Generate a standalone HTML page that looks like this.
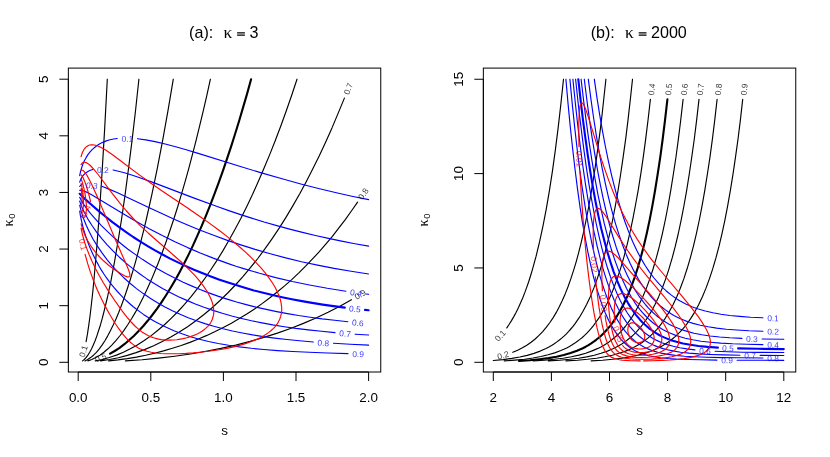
<!DOCTYPE html>
<html><head><meta charset="utf-8"><title>Contours</title>
<style>
html,body{margin:0;padding:0;background:#fff;}
body{width:830px;height:457px;overflow:hidden;font-family:"Liberation Sans",sans-serif;}
svg{display:block;will-change:transform;}
svg text{font-family:"Liberation Sans",sans-serif;}
svg .sym{font-family:"Liberation Serif",serif;}
</style></head><body>
<svg width="830" height="457" viewBox="0 0 830 457" font-family="'Liberation Sans', sans-serif" fill="#000">
<rect width="830" height="457" fill="#fff"/>
<g>
<path d="M86.1 341.6L87.4 334.4L88.7 325.6L90.1 315.5L91.4 304.3L92.8 291.8L94.1 278.1L96.8 247.1L99.5 211.2L102 173.4L104.7 128.1L107.3 79.2 M82.5 360.9L84.3 359.5L86 357.7L87.9 355.1L89.7 352.3L91.6 348.7L93.3 344.9L95.1 340.7L96.8 336.1L98.7 330.3L100.5 324.7L102.2 318.6L103.9 312L107.4 297.5L110.9 281.1L114.5 261.8L118 241.6L121.5 219.5L125 195.4L128.4 169.5L131.9 141.6L135.4 111.8L138.9 79.2 M85 360.9L87.7 359.5L90.6 357.6L93.5 355.2L96.4 352.3L99.3 348.8L102 345.1L104.9 340.7L107.6 336.1L110.5 330.6L113.2 325.1L116.1 318.7L118.8 312.2L121.7 304.7L124.4 297.3L127.3 288.8L130 280.5L132.9 270.9L135.6 261.6L138.3 251.7L140.9 241.4L143.8 229.8L146.5 218.5L151.9 194.4L157.3 168.3L162.7 140.1L167.9 111.1L173.3 79.2 M87.9 360.9L91.8 359.5L95.8 357.6L99.9 355.2L103.9 352.3L108 348.8L111.8 345.1L115.9 340.7L119.7 336L123.8 330.6L127.6 325L131.7 318.5L135.6 311.9L139.6 304.4L143.5 296.8L147.3 288.7L151.2 280.1L155 271L158.9 261.3L162.7 251.2L166.4 241L170.2 229.8L173.9 218.7L177.8 206.5L181.4 194.3L185.1 181.6L188.8 168.4L192.4 154.7L196.1 140.4L199.7 125.6L203.2 111.1L206.9 95.2L210.4 79.2 M95.2 360.9L98.7 360.2L102.2 359.5L105.9 358.5L109.3 357.5L113 356.3L116.5 355.1L123.4 352.2L130.3 348.8L137.3 344.9L144.2 340.5L151.2 335.6L157.9 330.3L164.7 324.5L171.4 318.2L178 311.5L184.5 304.3L191.1 296.6L197.6 288.3L204 279.7L210.3 270.5L216.5 261.1L222.7 251.1L228.8 240.5L234.8 229.7L240.8 218.4L246.8 206.4L252.6 194.3L258.3 181.5L264.1 168.1L269.7 154.6L275.3 140.5L280.9 125.7L286.3 110.8L291.7 95.3L297 79.2 M100.5 360.9L109.5 359.5L118.4 357.7L127.3 355.4L136.1 352.6L145 349.4L153.7 345.8L162.3 341.6L170.8 337.1L179.3 332.1L187.6 326.7L195.9 320.8L204 314.5L212.1 307.7L220 300.5L227.7 293L235.4 285L242.9 276.6L250.4 267.7L257.8 258.5L264.9 248.9L272 238.8L279.2 228.1L286.1 217.1L292.8 205.9L299.6 194L306.1 181.9L312.7 169.1L319.3 155.8L325.6 142.2L332 127.9L338.1 113.4L344.4 98.1 M108.7 360.9L118 359.9L127.3 358.6L136.5 357.1L145.6 355.3L154.6 353.2L163.5 350.9L172.4 348.3L181.2 345.5L189.9 342.4L198.4 339L206.9 335.4L215.2 331.6L223.3 327.5L231.4 323.2L239.3 318.6L247.2 313.8L254.9 308.7L262.4 303.4L269.9 297.8L277.2 292L284.6 285.9L291.7 279.6L298.6 273.1L305.6 266.2L312.3 259.2L319.1 251.9L325.8 244.2L332.4 236.3L338.7 228.2L345.1 219.8L351.4 211L357.6 202.2 M125.4 360.9L142.1 359.7L158.5 358.1L174.7 356.2L190.5 354L205.9 351.3L220.9 348.4L235.8 345.1L250.1 341.4L263.9 337.4L277.4 333.1L290.5 328.5L303.4 323.4L316 318L328.1 312.2L339.9 306.2L351.4 299.7" fill="none" stroke="#000" stroke-width="1.15" stroke-linecap="round" stroke-linejoin="round"/>
<path d="M110.1 353.7L114.7 351L119.6 347.8L124.4 344.2L129 340.3L133.8 335.9L138.4 331.3L143.1 326.2L147.7 320.8L152.3 315L156.9 308.8L161.6 302.1L166.2 295L170.8 287.5L175.3 279.9L179.7 271.9L184.1 263.5L188.6 254.6L193 245.4L197.4 235.6L201.7 225.9L205.9 215.8L210.2 205.2L214.4 194.2L218.6 182.8L222.9 170.9L226.9 159.1L231 146.8L235 134.2L239.1 121L243.1 107.4L247.2 93.4L251.1 79.2" fill="none" stroke="#000" stroke-width="2.1" stroke-linecap="round" stroke-linejoin="round"/>
<path d="M79.7 175.7L80.4 172.1L81.6 168L82.9 164.1L84.5 160.6L86.2 157.4L88.1 154.4L90.3 151.7L92.4 149.4L94.9 147.2L97.4 145.3L100.3 143.6L103.4 142.1L106.4 140.9L109.9 139.8L113.6 139L117.3 138.5 M137.5 138.7L145.8 139.9L155 141.6L165.2 144L176.6 147L186.2 149.8L197.4 153.1L241.2 166.7L261.4 172.9L282.1 178.8L301.7 184.2L318.5 188.5L335.3 192.5L351.8 196.2L368.6 199.6 M79.7 182.1L80.6 179.6L81.8 177.4L83.1 175.5L84.7 173.9L86.4 172.5L88.3 171.3L90.4 170.3L92.9 169.5 M113.1 170L118.4 171.2L124.4 172.7L130.9 174.7L138.4 177.2L152.9 182.4L194.2 198.1L216.5 206.3L228.7 210.6L240.6 214.6L252.4 218.4L264.1 222L276.8 225.6L289.6 229.1L302.5 232.4L315.4 235.5L328.5 238.4L341.6 241.1L354.9 243.7L368.6 246.1 M79.7 186.5L80.8 185.2L82.1 184.3 M101.8 186.3L109 189.1L117.6 192.8L126.5 196.9L149.8 208L161.8 213.6L174.7 219.4L187 224.7L200.3 230.2L213.6 235.3L226.7 240.1L240 244.6L255.1 249.4L270.3 253.8L285.7 257.9L301.5 261.7L317.5 265.1L334.1 268.4L351.1 271.3L368.6 274 M79.7 190.3L80.4 190.3L81.4 190.3L83.9 191L87.2 192.4L91.2 194.5L98.7 198.9L121.5 212.8L134.6 220.6L148.7 228.5L162.3 235.6L174.9 241.8L187.6 247.6L200.3 253L213.2 258.1L220.8 260.9L228.3 263.6L236 266.2L243.7 268.6L259.5 273.3L275.7 277.6L292.3 281.5L309.4 285L327.3 288.3L345.9 291.2 M366 294L368.6 294.3 M79.7 197.3L80.8 199.6L82.2 201.9L83.9 204.6L85.8 207.3L90.4 213.4L95.7 219.4L101.4 225.6L107.6 231.7L114.2 237.8L121.1 243.7L128 249.2L135.2 254.4L142.7 259.6L150.4 264.6L158.3 269.3L166.4 273.8L174.7 278.1L183.2 282.2L191.5 285.9L200.1 289.5L208.8 292.9L217.9 296.1L227.1 299.1L236.6 302L246.2 304.6L256 307.1L266.2 309.4L276.7 311.6L287.4 313.6L298.6 315.5L310.2 317.2L322.1 318.9L334.7 320.3L347.8 321.7 M79.7 201L80.6 203.9L81.6 206.4L82.9 209.6L84.5 212.8L87.9 219.1L92 225.5L96.6 232.1L101.6 238.4L107.2 244.9L113.2 251.2L119.4 257.2L125.7 262.9L132.5 268.4L139.6 273.8L146.9 278.9L154.6 283.8L162.5 288.4L170.6 292.8L178.5 296.7L186.8 300.4L195.3 304L204 307.3L213 310.4L222.3 313.3L231.7 316L241.6 318.5L251.6 320.8L262 322.9L272.8 324.9L284.2 326.7L295.9 328.4L308.3 329.9L321.4 331.3L335 332.6 M355.2 334.2L368.6 335 M79.7 205.2L81.2 211.4L82.4 215.2L83.5 218.5L86.2 225.3L89.5 232.3L93.1 239.2L97.4 246.1L102 252.9L107 259.6L112.2 265.8L117.8 271.8L123.8 277.7L130 283.3L136.5 288.6L143.3 293.6L150.2 298.3L157.5 302.8L164.9 306.9L172.4 310.7L180.1 314.3L188.2 317.7L196.5 320.8L204.9 323.6L213.8 326.3L223.1 328.8L232.5 331L242.3 333L252.6 334.9L263.4 336.6L274.7 338.1L286.9 339.5L299.6 340.8L313.3 342 M333.5 343.3L350.3 344.3L368.6 345.1 M79.7 211L80.4 215.6L81.2 219.5L82.2 223.8L83.3 228.3L84.7 232.9L86 237.1L87.6 241.5L89.3 246L91 250.1L93 254.4L94.9 258.3L97 262.4L99.1 266.2L101.4 270.1L103.9 274L106.4 277.7L109.1 281.4L111.8 284.9L114.5 288.2L117.4 291.5L120.3 294.6L123.4 297.8L126.5 300.8L129.8 303.7L133 306.5L136.5 309.3L140 311.9L143.5 314.4L147.1 316.8L151 319.2L154.8 321.5L158.7 323.6L166.2 327.3L173.9 330.7L182 333.8L190.5 336.7L199.4 339.2L208.6 341.5L218.2 343.5L228.7 345.3L239.5 346.9L251.2 348.3L263.9 349.5L277.6 350.6L292.7 351.5L309.2 352.3L327.5 353L348 353.6" fill="none" stroke="#00f" stroke-width="1.15" stroke-linecap="round" stroke-linejoin="round"/>
<path d="M79.7 193.8L86 199.9L92.6 205.8L99.1 211.4L105.7 216.8L112.4 222.1L119.2 227.2L126.1 232.1L133.2 237L140.4 241.6L147.7 246.1L155 250.4L162.5 254.5L170.2 258.6L178 262.4L185.9 266.1L194 269.7L202.1 273L210.3 276.3L218.8 279.4L227.3 282.3L236 285.1L244.8 287.8L253.9 290.4L263.2 292.8L272.4 295L282.1 297.2L291.9 299.2L301.9 301.1L312.1 302.9L322.7 304.6L333.5 306.1L344.8 307.6 M365 309.9L368.6 310.3" fill="none" stroke="#00f" stroke-width="2.1" stroke-linecap="round" stroke-linejoin="round"/>
<path d="M85.1 254.3L87.6 263.4L90.5 272.4L93.4 280.4L97 289.2L100.7 297.2L105 305.9L109.6 314.3L114.4 322.2L118.8 328.7L122.8 334.1L126.7 338.6L130.3 342.2L132.4 343.9L134.3 345.4L136.1 346.6L138.3 347.9L140.5 349L142.7 349.9L147 351.3L151.3 352.3L155.7 353L160.8 353.5L165.8 353.7L172.3 353.8L178.9 353.7L186.1 353.4L193.3 352.9L200.6 352.2L208.6 351.3L215.8 350.3L222.3 349.2L228.1 348.1L234.6 346.6L240.4 345.1L246.2 343.4L250.6 341.8L254.2 340.4L257.8 338.9L261.7 336.9L265.4 334.8L268.5 332.6L271.2 330.5L273.5 328.4L275.4 326.3L277 324.2L278.3 322.1L279.7 319.2L280.7 316.4L281.3 313.6L281.7 310.8L281.7 307.9L281.3 304.4L281 302.3L280.5 300.2L279.1 295.9L277.3 291.7L275.2 287.5L272.2 282.5L268.8 277.6L265 272.6L260.8 267.7L256.3 262.8L251.3 257.6L245.5 252.2L239.7 247L233.3 241.6L226.3 235.9L219 230.3L209.3 223.1L197.7 215L187.6 208L162.9 191.5L150.6 183L136.9 173.1L118.2 159L112.5 154.7L106.4 150.6L102.1 148L99.9 146.9L97.8 146L95.6 145.3L94.1 145L92.7 144.8L91.2 144.8L89.8 145L88.3 145.5L86.9 146.4L86.2 146.9L84.7 148.5L84 149.5L83.3 150.8L82.5 152.3L81.8 154.2L81.1 156.6 M81.1 228.4L82.5 234.8L84.7 242.5L86.9 248.9L89.1 254.5L92 261.2L95.6 268.7L99.2 275.5L103.5 283L109.3 292.4L115.9 302.2L121.7 310.3L126.7 316.9L131.1 322L135.4 326.5L137.6 328.4L139.8 330.2L141.9 331.9L144.1 333.3L146.3 334.6L148.4 335.7L151.1 336.9L153.5 337.8L155.7 338.4L158.6 339.1L161.5 339.6L164.4 339.9L167.3 340.1L170.2 340.1L173.1 340L176.7 339.7L180.3 339.1L183.2 338.6L186.8 337.7L189.7 336.9L192.6 335.9L195.4 334.8L197.7 333.7L199.9 332.5L202 331.2L204 329.8L205.7 328.4L207.8 326.3L209.1 324.9L210.6 322.8L211.4 321.3L212.3 319.2L212.8 317.8L213.3 315.7L213.7 313.6L213.8 311.5L213.5 307.9L213.2 305.8L212.6 303.7L212 301.6L211.2 299.5L209.2 295.2L206.8 291L203.5 286.1L199.7 281.1L195.5 276.2L189.4 269.8L182.1 262.8L174.2 255.7L156.4 240.3L148.4 233.2L140.5 225.8L133.2 218.5L126 210.5L119.5 202.7L112.2 193.4L98.1 174.5L94.1 169.6L90.8 166L89.1 164.5L87.6 163.4L86.2 162.6L84.7 162.2L84 162.2L83.3 162.4L82.5 162.8L81.8 163.5L81.1 164.6 M81.1 223.8L82.5 228.8L84 232.8L85.4 236.2L87.6 240.6L89.8 244.3L92.7 248.6L95.6 252.4L99.2 256.5L103.5 260.8L108.6 265.2L114.4 269.5L120.2 273.3L124.6 275.7L126 276.4L127.4 276.9L128.2 277L129 276.9L129.6 276.4L129.8 276.2L129.9 275.5L129.8 274L129.5 272.6L128.8 270.5L127.4 267L115.1 238.9L99 200.6L93 187.2L91 183L88.8 178.7L87.3 175.9L85.9 173.8L84.3 171.7L83.3 170.6L82.5 170.2L81.8 170L81.1 170.1 M90.5 201.5L89.5 197.1L88.2 192.2L85.8 184.4L84.5 180.9L83.2 178L82 175.9L81.1 174.9 M81.1 215.9L81.8 216.9L82.5 217.5L83.3 217.8L84 217.6L84.8 216.9L85.5 215.5L86 213.3L86.3 210.5L86.4 207.7L86.3 204.2L86 200.6L85 193.6L83.8 187.9L82.9 184.4L82.1 181.6L81.1 179.2 M81.1 211.9L81.8 211.7L82.5 210.5L82.8 209.8L83.1 208.4L83.3 207L83.5 204.9L83.5 202.7L83.4 198.5L82.9 192.9L82.1 187.9L81.1 183.5 M81.1 207.3L81.5 205.6L81.7 204.2L82 199.9L81.9 197.1L81.7 193.6L81.1 188.5" fill="none" stroke="#f00" stroke-width="1.15" stroke-linecap="round" stroke-linejoin="round"/>
<g class="lab"><text transform="translate(83.18 351.23) rotate(-73.19)" fill="#000" fill-opacity="0.8" font-size="8.4" text-anchor="middle" dy="0.38em">0.1</text>
<text transform="translate(100.6 357.3) rotate(-20.77)" fill="#000" fill-opacity="0.8" font-size="8.4" text-anchor="middle" dy="0.38em">0.5</text>
<text transform="translate(348.04 88.65) rotate(-68.81)" fill="#000" fill-opacity="0.8" font-size="8.4" text-anchor="middle" dy="0.38em">0.7</text>
<text transform="translate(363.08 193.67) rotate(-57.01)" fill="#000" fill-opacity="0.8" font-size="8.4" text-anchor="middle" dy="0.38em">0.8</text>
<text transform="translate(360 294.31) rotate(-31.97)" fill="#000" fill-opacity="0.8" font-size="8.4" text-anchor="middle" dy="0.38em">0.9</text>
<text transform="translate(127.42 138.59) rotate(0.74)" fill="#00f" fill-opacity="0.8" font-size="8.4" text-anchor="middle" dy="0.38em">0.1</text>
<text transform="translate(102.99 169.77) rotate(1.28)" fill="#00f" fill-opacity="0.8" font-size="8.4" text-anchor="middle" dy="0.38em">0.2</text>
<text transform="translate(91.95 185.31) rotate(5.93)" fill="#00f" fill-opacity="0.8" font-size="8.4" text-anchor="middle" dy="0.38em">0.3</text>
<text transform="translate(355.94 292.6) rotate(7.75)" fill="#00f" fill-opacity="0.8" font-size="8.4" text-anchor="middle" dy="0.38em">0.4</text>
<text transform="translate(354.92 308.77) rotate(6.55)" fill="#00f" fill-opacity="0.8" font-size="8.4" text-anchor="middle" dy="0.38em">0.5</text>
<text transform="translate(357.88 322.64) rotate(5.15)" fill="#00f" fill-opacity="0.8" font-size="8.4" text-anchor="middle" dy="0.38em">0.6</text>
<text transform="translate(345.14 333.38) rotate(4.46)" fill="#00f" fill-opacity="0.8" font-size="8.4" text-anchor="middle" dy="0.38em">0.7</text>
<text transform="translate(323.37 342.65) rotate(3.92)" fill="#00f" fill-opacity="0.8" font-size="8.4" text-anchor="middle" dy="0.38em">0.8</text>
<text transform="translate(358.09 353.87) rotate(1.34)" fill="#00f" fill-opacity="0.8" font-size="8.4" text-anchor="middle" dy="0.38em">0.9</text>
<text transform="translate(83.11 244.59) rotate(78.34)" fill="#f00" fill-opacity="0.8" font-size="8.4" text-anchor="middle" dy="0.38em">0.1</text>
<text transform="translate(85.81 210.58) rotate(-62.7)" fill="#f00" fill-opacity="0.8" font-size="8.4" text-anchor="middle" dy="0.38em">0.4</text></g>
<rect x="68.35" y="68.1" width="312.4" height="303.9" fill="none" stroke="#000" stroke-width="1"/>
<path d="M78.2 372 H368.6 M78.2 372 v9 M150.8 372 v9 M223.4 372 v9 M296 372 v9 M368.6 372 v9 M68.35 79.2 V362.3 M68.35 362.3 h-9 M68.35 305.68 h-9 M68.35 249.06 h-9 M68.35 192.44 h-9 M68.35 135.82 h-9 M68.35 79.2 h-9" fill="none" stroke="#000" stroke-width="1"/>
<text x="78.2" y="401.8" font-size="13.4" text-anchor="middle">0.0</text>
<text x="150.8" y="401.8" font-size="13.4" text-anchor="middle">0.5</text>
<text x="223.4" y="401.8" font-size="13.4" text-anchor="middle">1.0</text>
<text x="296" y="401.8" font-size="13.4" text-anchor="middle">1.5</text>
<text x="368.6" y="401.8" font-size="13.4" text-anchor="middle">2.0</text>
<text transform="translate(47.6 362.3) rotate(-90)" font-size="13.4" text-anchor="middle">0</text>
<text transform="translate(47.6 305.68) rotate(-90)" font-size="13.4" text-anchor="middle">1</text>
<text transform="translate(47.6 249.06) rotate(-90)" font-size="13.4" text-anchor="middle">2</text>
<text transform="translate(47.6 192.44) rotate(-90)" font-size="13.4" text-anchor="middle">3</text>
<text transform="translate(47.6 135.82) rotate(-90)" font-size="13.4" text-anchor="middle">4</text>
<text transform="translate(47.6 79.2) rotate(-90)" font-size="13.4" text-anchor="middle">5</text>
<text x="189.1" y="37.7" font-size="16.1">(a):</text>
<text x="223.4" y="37.7" font-size="17.4" class="sym">κ</text>
<path d="M237.1 32.85h7.8M237.1 35.2h7.8" stroke="#000" stroke-width="1.25" fill="none"/>
<text x="249.4" y="37.7" font-size="16.1">3</text>
<text x="224.5" y="435.2" font-size="13.4" text-anchor="middle">s</text>
<text transform="translate(12.8 226.6) rotate(-90)" font-size="14.4"><tspan class="sym">κ</tspan><tspan font-size="9.4" dy="2.6" dx="0.6">0</tspan></text>
</g>
<g>
<path d="M506.8 327.9L509.2 324.3L511.5 320.6L513.8 316.6L516.2 312.2L518.5 307.5L520.6 302.8L522.8 297.8L524.7 292.9L526.6 287.6L528.6 282L530.5 276L532.4 269.6L536.1 256.2L539.6 241.7L542.9 226.4L546.2 209.3L549.3 191.3L552.4 171.3L555.3 150.4L558.2 127.4L560.9 103.7L563.5 79.2 M512.8 352.3L517.7 350.2L522.4 347.8L526.8 345.2L531.1 342.2L535.2 339L539 335.4L542.7 331.6L546.4 327.2L549.9 322.5L553.2 317.6L556.3 312.4L559.4 306.6L562.3 300.5L565.2 293.9L568.1 286.5L570.8 278.9L573.5 270.6L576.1 262.1L578.6 252.9L581.1 242.9L583.4 232.8L585.7 221.8L588.1 210L590.2 198.3L592.3 185.7L594.3 173.4L596.4 158.9L598.3 144.7L600.3 129.6L602.2 113.5L605.9 79.2 M493.3 360.5L503.2 359.6L511.9 358.4L519.9 357L527.2 355.4L534 353.4L540.2 351.1L546 348.5L548.9 347L551.6 345.4L554.3 343.7L556.9 341.9L559.4 340L561.7 338.1L564 336.1L566.4 333.8L568.7 331.4L570.8 329L573 326.4L575.1 323.6L579.2 317.7L583 311.3L586.7 304.3L590.4 296.4L593.9 287.9L597.2 278.9L600.5 268.8L603.6 258.1L606.7 246.3L609.6 234.1L612.5 220.5L615.2 206.6L617.9 191.3L620.6 174.5L623.1 157.4L625.7 138.8L628 120.1L630.3 99.8L632.5 79.2 M504.3 360.9L515 360.1L524.5 359.2L533 358L541 356.5L548.1 354.8L554.7 352.9L560.9 350.5L563.8 349.3L566.7 347.9L569.5 346.4L572.2 344.8L574.9 343.1L577.4 341.3L579.9 339.4L582.3 337.5L584.6 335.4L586.9 333.1L589.2 330.6L591.4 328.2L593.5 325.6L595.6 322.7L599.5 317.1L603.4 310.6L607.3 303.1L610.9 295.1L614.4 286.5L617.7 277.3L621 267.1L624.1 256.3L627.2 244.3L630.1 231.9L632.8 219.1L635.5 205L638.3 189.6L640.8 173.9L643.3 156.8L645.8 138.2L648.1 119.5L650.4 99.4 M533.3 360.9L544.5 360.2L554.3 359.3L563.3 358.2L571.4 356.8L579 355.1L585.7 353.2L592.1 350.9L597.9 348.4L600.9 346.9L603.6 345.4L606.3 343.7L609 341.9L611.5 340L614 338L616.4 336L618.7 333.8L621 331.4L623.1 329L625.3 326.5L627.4 323.7L631.5 317.9L635.4 311.6L639.2 304.3L642.9 296.5L646.4 288.1L649.9 278.6L653.2 268.5L656.5 257.2L659.6 245.4L662.5 233.1L665.4 219.5L668.1 205.5L670.8 190.1L673.3 174.5L675.9 157.5L678.4 138.9L680.7 120.3L683.1 99.4 M548.4 360.9L559.8 360.2L569.7 359.3L578.6 358.2L586.7 356.9L594.3 355.2L601.1 353.3L607.4 351.1L610.5 349.8L613.5 348.5L616.4 347.1L619.1 345.6L621.8 343.9L624.5 342.1L627 340.3L629.5 338.3L631.9 336.3L634.2 334.1L636.5 331.8L638.8 329.2L641 326.7L643.1 324L647.2 318.2L651 311.9L654.9 304.7L658.6 296.9L662.1 288.5L665.6 279.1L668.9 269.1L672.2 257.9L675.3 246.2L678.2 234L681.1 220.4L683.8 206.5L686.5 191.3L689.2 174.5L691.7 157.5L694.3 139L696.6 120.4L699 99.4 M566 360.9L577.4 360.2L587.5 359.3L596.6 358.2L604.7 356.8L612.3 355.2L619.1 353.3L625.5 351.1L628.6 349.9L631.5 348.6L634.4 347.1L637.1 345.6L639.8 344L642.5 342.2L645 340.4L647.6 338.4L649.9 336.4L652.2 334.2L654.5 331.9L656.9 329.3L659 326.8L661.1 324.1L665.2 318.3L669.1 312.1L672.9 304.9L676.8 296.7L680.3 288.3L683.8 278.9L687.1 268.8L690.4 257.6L693.5 245.8L696.4 233.6L699.3 220L702 206.1L704.7 190.8L707.4 174L710 156.9L712.5 138.3L714.8 119.6L717.1 99.4 M591.2 360.9L602.6 360.2L612.7 359.3L621.8 358.2L629.9 356.9L637.5 355.3L644.5 353.4L650.9 351.2L654 349.9L656.9 348.6L659.8 347.2L662.5 345.7L665.2 344.1L667.9 342.3L670.4 340.5L672.9 338.5L675.5 336.4L677.8 334.2L680.1 331.9L682.4 329.3L684.6 326.8L686.7 324.1L690.8 318.4L694.7 312.1L698.5 304.9L702.4 296.7L705.9 288.4L709.4 278.9L712.7 268.9L716 257.7L719.1 245.9L722 233.7L724.9 220.1L727.6 206.2L730.3 190.9L733 174.2L735.5 157.1L738.1 138.5L740.4 119.9L742.7 99.4" fill="none" stroke="#000" stroke-width="1.15" stroke-linecap="round" stroke-linejoin="round"/>
<path d="M519 360.9L529.9 360.2L539.6 359.2L548.5 358.1L556.5 356.7L563.8 355L570.6 353.1L577 350.8L582.8 348.2L585.7 346.7L588.5 345.1L591.2 343.4L593.7 341.7L596.2 339.8L598.7 337.8L601.1 335.7L603.4 333.5L605.7 331L607.8 328.6L610 326.1L612.1 323.3L616 317.7L619.8 311.3L623.7 304L627.4 296.1L630.9 287.6L634.4 278.1L637.7 268L640.8 257.3L643.9 245.5L646.8 233.2L649.7 219.6L652.4 205.6L655.1 190.2L657.6 174.6L660.2 157.6L662.7 139L665 120.4L667.4 99.4" fill="none" stroke="#000" stroke-width="2.1" stroke-linecap="round" stroke-linejoin="round"/>
<path d="M594.3 79.2L597 97.8L599.7 114.8L602.6 131.6L605.5 147L608.4 161.1L611.5 174.8L614.8 188.1L618.1 200.2L621.6 211.7L625.1 222.2L628.8 232.1L632.6 241.5L636.7 250.3L640.8 258.1L645 265.3L649.5 272.1L654 278L658.6 283.4L663.5 288.4L666 290.7L668.7 293L671.4 295.1L674.1 297.1L676.8 298.9L679.7 300.7L682.6 302.3L685.7 303.9L688.8 305.3L691.9 306.7L698.3 309L705.3 311L712.9 312.8L721 314.3L729.9 315.5L739.6 316.4L750.5 317.2L762.9 317.8 M588.3 79.2L591 99.7L593.7 118.5L596.4 135.8L599.3 152.8L602.2 168.3L605.3 183.3L608.6 197.8L611.9 210.8L615.4 223.3L618.9 234.4L622.6 245L626.2 254.4L630.3 263.7L634.4 271.9L638.6 279.5L641 283.2L643.3 286.7L645.4 289.7L647.8 292.7L650.1 295.5L652.6 298.4L654.9 300.8L657.4 303.3L660 305.6L662.7 307.8L665.4 309.9L668.1 311.8L671 313.7L673.9 315.4L676.8 316.9L679.9 318.4L683 319.8L686.3 321.1L689.6 322.3L693.1 323.4L700.3 325.2L708.2 326.8L716.7 328.1L726.2 329.2L736.9 330L748.9 330.7L762.9 331.2 M584.3 79.2L586.9 100.3L589.4 119.1L591.9 136.4L594.7 153.6L597.4 169.3L600.3 184.6L603.2 198.6L606.3 212.1L609.4 224.3L612.7 236L616.2 247.2L619.7 257.1L623.3 266.5L627 274.8L631.1 283L635.2 290.1L637.3 293.5L639.4 296.7L643.7 302.4L645.8 305L648.1 307.6L650.5 310.1L653 312.5L655.3 314.6L657.8 316.7L660.4 318.6L663.1 320.5L665.8 322.2L668.7 323.9L671.6 325.4L674.5 326.8L680.5 329.3L687.1 331.4L694.1 333.2L701.8 334.7L710.2 336L719.5 337L729.9 337.8L741.9 338.4 M762.2 339L783.8 339.3 M581.1 79.2L583.6 100.5L586.3 121.9L589 141.4L591.9 160.4L594.8 177.7L597.9 194.3L601.1 209.4L604.3 223.7L607.8 237.2L611.3 249.3L615 260.6L618.7 270.6L622.6 279.9L624.5 284.1L626.6 288.4L628.8 292.5L630.9 296.2L633.2 300L635.5 303.6L637.7 306.6L640 309.6L642.3 312.4L644.7 315L647 317.4L649.5 319.8L652 322L654.5 324L657.3 326L660 327.8L662.7 329.4L665.6 331L668.7 332.5L671.8 333.8L675.1 335.1L678.4 336.2L685.2 338.2L692.7 339.8L701 341.2L710.4 342.2L720.8 343.1L732.6 343.8L746.4 344.2L762.9 344.6 M575.6 79.2L577.6 98L579.7 116.9L581.9 134.4L584.2 152.1L586.5 168.4L588.8 183.4L591.4 198.4L593.9 212L596.4 224.5L599.1 236.7L601.8 247.8L604.7 258.6L607.6 268.3L610.5 277L613.6 285.4L616.9 293.3L620.2 300.4L623.7 306.9L627.2 312.7L630.9 318.1L634.8 323L638.8 327.4L642.9 331.2L645 333L647.4 334.7L651.8 337.7L656.7 340.4L661.9 342.7L667.3 344.6L673.3 346.3L679.7 347.7L686.9 348.9L694.9 349.9 M715.1 351.3L727.6 351.8L742.5 352.2L760.7 352.4L783.8 352.5 M572.9 79.2L575.3 102.8L577.8 125.7L580.3 146.6L582.8 165.7L585.5 184.4L588.3 201.3L591.2 217.6L594.1 232.3L597.2 246.3L600.3 258.8L603.6 270.6L606.9 281.1L610.5 291.3L614.2 300.2L616.2 304.4L618.1 308.3L620 311.9L622.2 315.6L624.1 318.7L626.1 321.6L628 324.2L630.1 326.9L632.3 329.4L634.4 331.7L636.5 333.8L638.8 335.8L641.2 337.7L643.7 339.6L646.2 341.2L648.7 342.7L651.4 344.1L654.2 345.4L657.1 346.6L660 347.6L663.1 348.6L666.2 349.5L672.9 350.9L680.5 352.2L689 353.1L698.7 353.9L710.2 354.5L723.5 354.9L739.9 355.2 M760.2 355.4L783.8 355.5 M569.9 79.2L572.4 105.4L574.9 129.4L577.4 151.2L580.1 172.5L582.8 191.7L585.7 210.2L588.6 226.8L591.7 242.5L595 257.3L598.3 270.3L601.8 282.4L605.3 292.9L607.3 298.2L609.2 303.1L611.1 307.5L613.1 311.7L615 315.5L617.1 319.4L619.3 323L621.6 326.5L623.5 329.2L625.5 331.7L627.6 334.2L629.7 336.4L631.9 338.5L634.2 340.5L636.5 342.4L638.8 344L641.4 345.6L643.9 347L646.4 348.3L649.1 349.4L651.8 350.5L654.7 351.4L657.8 352.3L661.1 353.1L667.9 354.4L675.5 355.4L684.4 356.2L694.7 356.8L706.7 357.3L721.4 357.6L739.4 357.8L762.9 358 M565.9 79.2L568.1 104.1L570.2 126.1L572.6 148.2L574.9 168.3L577.4 188.1L579.9 206.1L582.4 222.3L585.2 238L587.9 252.1L590.8 265.6L593.7 277.5L596.8 288.7L600.1 299.2L603.4 308.2L605.1 312.5L606.9 316.5L608.6 320.2L610.5 323.9L613.8 329.6L617.3 334.7L619.1 337L621 339.3L622.9 341.4L624.9 343.3L626.8 345L629 346.7L631.1 348.2L633.2 349.6L635.5 350.9L637.9 352L640.4 353.1L642.9 354L647.9 355.5L653.8 356.8L660.4 357.7L667.9 358.5L676.8 359.1L687.5 359.5L700.5 359.8L716.9 360.1 M737.1 360.2L783.8 360.3" fill="none" stroke="#00f" stroke-width="1.15" stroke-linecap="round" stroke-linejoin="round"/>
<path d="M578.3 79.2L580.5 99.1L582.8 118.6L585.2 136.6L587.7 154.6L590.2 171L592.9 187.2L595.6 202L598.3 215.4L601.2 228.5L604.2 240.3L607.3 251.7L610.4 261.9L613.6 271.6L617.1 280.7L620.6 288.9L624.3 296.4L628 303.1L631.9 309.2L635.9 314.8L640 319.7L642.1 321.9L644.5 324.2L646.8 326.3L649.1 328.3L651.4 330L654 331.8L656.5 333.4L659.2 335L661.9 336.4L664.6 337.6L670.2 339.9L676.4 341.8L683 343.5L690.4 344.8L698.5 346L707.6 346.9L717.9 347.6 M738.1 348.4L757.8 348.8L783.8 349.1" fill="none" stroke="#00f" stroke-width="2.1" stroke-linecap="round" stroke-linejoin="round"/>
<path d="M643.7 360.9L652.7 360.8L662.2 360.4L670.2 360L677.5 359.4L684.1 358.6L689.9 357.6L694.2 356.6L698.8 355.2L702.1 353.8L704.6 352.4L705.6 351.7L707.2 350.3L707.8 349.6L708.8 348.2L709.8 346.1L710.2 344.7L710.3 343.2L710.4 341.8L710.3 340.4L710 339L709.5 336.9L708.8 334.8L707.9 332.7L706.9 330.5L705.4 327.7L702 322.1L698.1 316.4L693.3 310.1L687.1 302.3L680.1 293.8L660.8 271L654.2 262.9L649.1 256.3L642.6 247.2L637.5 239.6L632.4 231.3L628 223.6L622.9 213.8L618.4 204.2L613.4 192.6L609.1 181.4L604.9 169.6L600.6 156.9L587.9 115.7L585.8 109.4L584.3 106L583.6 104.6L582.9 103.5L582.1 102.9L581.4 102.9L581.1 103.2L580.7 103.9L580 106.1L579.5 109.6L579.1 115.2L578.8 124.4L578.8 134.3L579 146.5 M580 171.4L581.4 197.1L583.4 223.9L585.6 248.7L586.9 261.4L588.3 273.4L589.8 285.4L591.2 295.2L592.7 305.1L594 312.9L595.5 320.7L597 327.7L598.4 333.4L600.1 339L601.3 342.5L602.6 346.1L604 348.9L605.2 351L606.7 353.1L608 354.5L609.6 355.9L611.9 357.4L614.2 358.4L616.3 359L619.3 359.7L622.2 360.1L625.8 360.4L630.2 360.7L640.1 360.9 M629.6 358.8L636 359.2L643.3 359.3L651.3 359.1L658.6 358.6L665.1 357.8L668.3 357.4L671.7 356.7L676.8 355.4L680.4 354.2L682.7 353.1L684 352.4L686.1 351L686.9 350.3L688.2 348.9L688.8 348.2L689.6 346.8L690.2 345.4L690.5 343.9L690.7 342.5L690.8 341.1L690.5 338.3L690.2 336.9L689.6 334.8L688.8 332.7L687.9 330.5L685.3 325.6L682.3 320.7L678.5 315L674.3 309.4L669.3 303L664.1 296.7L645.5 274.3L639.7 267L634.5 260.2L628.8 252.2L623.1 243.7L618.1 235.9L608.3 220L605.4 215.5L602.5 211.6L601.1 210L600.3 209.4L599.6 208.9L598.9 208.5L598.1 208.4L597.4 208.5L596.7 208.9L596 209.8L595.2 211.4L594.5 214L594.1 216.2L593.8 218.9L593.5 222.5L593.2 231L593.2 240.9L593.6 252.1 M595.4 276.9L596.5 287.5L597.8 298.1L599.1 307.9L600.7 317.1L602.2 324.9L603.9 331.9L605.7 338.3L607.5 343.2L608.5 345.4L609.5 347.5L611.4 350.3L613.1 352.4L614.2 353.4L615.6 354.5L618.1 355.9L619.7 356.6L621.4 357.3L625.1 358.1L629.6 358.8 M636.7 357.4L641.8 357.5L647.7 357.3L654.2 356.7L659.3 355.9L663.7 355L667.4 353.8L670.8 352.4L672.4 351.5L674.2 350.3L675 349.6L676.3 348.2L676.8 347.5L677.7 346.1L678.4 343.9L678.7 342.5L678.8 341.1L678.7 338.3L678.4 336.9L677.8 334.8L676.6 331.2L674.9 327.7L673.4 324.9L671.7 322.1L669.8 319.2L667.4 315.7L662.1 308.7L655.7 300.9L648.4 292.3L620.7 260.6L617.8 257.5L614.9 254.7L612.7 253L611.2 252L609.8 251.4L608.3 251.1L607.6 251.2L606.9 251.4L606.2 251.9L605.4 252.6L604.7 253.7L604 255.4L603.2 257.9L602.7 260.7L602.4 263.5L602.1 267L601.9 271.2L601.9 280.4L602.4 290.7 M605.1 315.5L606 321.4L607.2 327L608.3 331.9L609.5 336.2L610.7 339.7L612.2 343.2L613.6 346.1L615.5 348.9L617.4 351L619.1 352.4L621.2 353.8L623.6 354.9L626.5 355.9L629.4 356.6L633.1 357.1L636.7 357.4 M638 355.2L641.8 355.3L645.5 355.2L649.1 354.8L652.7 354.2L656.4 353.4L659.3 352.5L661.5 351.6L663.9 350.3L665.8 348.9L667.2 347.5L668.2 346.1L669.1 343.9L669.6 341.8L669.7 339.7L669.5 337.6L668.9 334.8L667.7 331.2L666 327.7L663.6 323.5L660.8 319.2L657.2 314.3L653.5 309.6L649.1 304.5L644 298.9L638.2 292.8L633.1 287.7L628 283L624.4 280L621.4 278L620 277.2L618.5 276.5L617.1 276.1L616.3 276L615.6 276L614.5 276.2L613.4 276.7L612.7 277.2L612 278.1L611 279.7L610.2 281.8L609.5 284.7L609 287.5L608.7 291L608.5 295.2L608.4 300.2L608.6 305.1L609 310.8L609.6 316.4L610.3 321.4L611.1 326.3L612.1 330.5L613.2 334.8L614.1 337.6L614.9 339.7L615.8 341.8L617.1 344.2L618.2 346.1L619.3 347.5L620.5 348.9L622.1 350.3L623.6 351.4L625.1 352.2L627 353.1L628.7 353.7L630.9 354.3L633.1 354.7L635.3 355L638 355.2 M636.6 352.4L640.4 352.6L644.7 352.4L648.4 351.9L651.7 351L653.6 350.3L655.1 349.6L657.4 348.2L659 346.8L659.6 346.1L660.6 344.7L660.9 343.9L661.4 342.5L661.8 340.4L661.8 339L661.7 337.6L661.2 334.8L660.2 331.9L658.6 328.4L656.6 324.9L653.8 320.7L649.8 315.6L645.5 310.6L640.4 305.4L635.3 300.8L633.1 299L630.9 297.4L628.7 296L627.3 295.1L625.8 294.5L624.4 293.9L622.9 293.6L621.4 293.6L620 293.9L619.3 294.3L618.5 294.8L617.8 295.5L617.1 296.5L616.3 297.9L615.6 299.9L615.2 301.6L614.8 303.7L614.5 305.8L614.2 310.8L614.3 316.4L614.8 322.3 M622.7 345.6L623.8 346.8L625.3 348.2L627.3 349.5L628.7 350.3L630.4 351L632.4 351.6L634.5 352.1L636.6 352.4 M637.6 348.9L639.6 349L641.8 348.9L643.3 348.7L645.5 348.3L646.9 347.8L648.4 347.2L649.8 346.4L651.2 345.4L652 344.5L652.9 343.2L653.6 341.8L654 340.4L654.1 339L654.1 337.6L654 336.2L653.4 334.1L652.7 331.9L651.7 329.8L650.6 327.7L648.7 324.9L646.9 322.5L644.7 319.8L642.6 317.5L640.4 315.4L638.2 313.5L636 311.8L633.8 310.3L632.4 309.5L630.2 308.6L628.7 308.2L627.3 308L625.8 308.2L624.7 308.7L623.7 309.4L622.9 310.2L622.5 310.8L622 311.5L621.4 312.9L620.8 315L620.5 316.4L620.2 318.5L620.1 320.7L620.2 324.9L620.5 327.7L620.8 329.8L621.8 334.1L622.9 337.3L624.4 340.3L625.8 342.5L627.8 344.7L629.5 346.1L630.9 346.9L632.1 347.5L634.5 348.3L637.6 348.9 M636.7 342.5L638.9 342.7L640.4 342.4L642 341.8L643.3 340.8L644.1 339.7L644.6 338.3L644.8 336.9L644.6 334.8L643.9 332.7L642.6 330.2L641.1 328.2L638.9 325.9L636.7 324.2L635.3 323.4L633.8 322.9L633.1 322.8L631.6 322.8L630.9 323L630.2 323.4L629.4 324.1L628.7 325.2L628.3 326.3L628 327.7L627.8 329.8L628 331.8L628.3 333.4L628.7 334.8L629.6 336.9L630.5 338.3L631.6 339.7L632.4 340.4L633.8 341.4L635.3 342.1L636.7 342.5" fill="none" stroke="#f00" stroke-width="1.15" stroke-linecap="round" stroke-linejoin="round"/>
<g class="lab"><text transform="translate(500.04 335.4) rotate(-48.25)" fill="#000" fill-opacity="0.8" font-size="8.4" text-anchor="middle" dy="0.38em">0.1</text>
<text transform="translate(503.03 355.11) rotate(-15.98)" fill="#000" fill-opacity="0.8" font-size="8.4" text-anchor="middle" dy="0.38em">0.2</text>
<text transform="translate(651.52 89.33) rotate(-83.93)" fill="#000" fill-opacity="0.8" font-size="8.4" text-anchor="middle" dy="0.38em">0.4</text>
<text transform="translate(668.49 89.33) rotate(-83.93)" fill="#000" fill-opacity="0.8" font-size="8.4" text-anchor="middle" dy="0.38em">0.5</text>
<text transform="translate(684.18 89.33) rotate(-83.92)" fill="#000" fill-opacity="0.8" font-size="8.4" text-anchor="middle" dy="0.38em">0.6</text>
<text transform="translate(700.08 89.33) rotate(-83.92)" fill="#000" fill-opacity="0.8" font-size="8.4" text-anchor="middle" dy="0.38em">0.7</text>
<text transform="translate(718.21 89.33) rotate(-83.92)" fill="#000" fill-opacity="0.8" font-size="8.4" text-anchor="middle" dy="0.38em">0.8</text>
<text transform="translate(743.82 89.33) rotate(-83.92)" fill="#000" fill-opacity="0.8" font-size="8.4" text-anchor="middle" dy="0.38em">0.9</text>
<text transform="translate(773.05 318.03) rotate(1.55)" fill="#00f" fill-opacity="0.8" font-size="8.4" text-anchor="middle" dy="0.38em">0.1</text>
<text transform="translate(773.04 331.36) rotate(1.09)" fill="#00f" fill-opacity="0.8" font-size="8.4" text-anchor="middle" dy="0.38em">0.2</text>
<text transform="translate(752.03 338.69) rotate(1.7)" fill="#00f" fill-opacity="0.8" font-size="8.4" text-anchor="middle" dy="0.38em">0.3</text>
<text transform="translate(773.04 344.68) rotate(0.63)" fill="#00f" fill-opacity="0.8" font-size="8.4" text-anchor="middle" dy="0.38em">0.4</text>
<text transform="translate(727.99 348.02) rotate(2.33)" fill="#00f" fill-opacity="0.8" font-size="8.4" text-anchor="middle" dy="0.38em">0.5</text>
<text transform="translate(705.01 350.62) rotate(4.09)" fill="#00f" fill-opacity="0.8" font-size="8.4" text-anchor="middle" dy="0.38em">0.6</text>
<text transform="translate(750.03 355.28) rotate(0.55)" fill="#00f" fill-opacity="0.8" font-size="8.4" text-anchor="middle" dy="0.38em">0.7</text>
<text transform="translate(773.04 358.01) rotate(0.15)" fill="#00f" fill-opacity="0.8" font-size="8.4" text-anchor="middle" dy="0.38em">0.8</text>
<text transform="translate(727 360.12) rotate(0.38)" fill="#00f" fill-opacity="0.8" font-size="8.4" text-anchor="middle" dy="0.38em">0.9</text>
<text transform="translate(579.5 158.94) rotate(87.84)" fill="#f00" fill-opacity="0.8" font-size="8.4" text-anchor="middle" dy="0.38em">0.01</text>
<text transform="translate(594.53 264.5) rotate(85.93)" fill="#f00" fill-opacity="0.8" font-size="8.4" text-anchor="middle" dy="0.38em">0.02</text>
<text transform="translate(603.72 303.08) rotate(83.85)" fill="#f00" fill-opacity="0.8" font-size="8.4" text-anchor="middle" dy="0.38em">0.03</text>
<text transform="translate(618.77 333.94) rotate(71.27)" fill="#f00" fill-opacity="0.8" font-size="8.4" text-anchor="middle" dy="0.38em">0.05</text></g>
<rect x="483.35" y="68.1" width="312.4" height="303.9" fill="none" stroke="#000" stroke-width="1"/>
<path d="M493.3 372 H783.8 M493.3 372 v9 M551.4 372 v9 M609.5 372 v9 M667.6 372 v9 M725.7 372 v9 M783.8 372 v9 M483.35 79.25 V362.3 M483.35 362.3 h-9 M483.35 267.95 h-9 M483.35 173.6 h-9 M483.35 79.25 h-9" fill="none" stroke="#000" stroke-width="1"/>
<text x="493.3" y="401.8" font-size="13.4" text-anchor="middle">2</text>
<text x="551.4" y="401.8" font-size="13.4" text-anchor="middle">4</text>
<text x="609.5" y="401.8" font-size="13.4" text-anchor="middle">6</text>
<text x="667.6" y="401.8" font-size="13.4" text-anchor="middle">8</text>
<text x="725.7" y="401.8" font-size="13.4" text-anchor="middle">10</text>
<text x="783.8" y="401.8" font-size="13.4" text-anchor="middle">12</text>
<text transform="translate(462.6 362.3) rotate(-90)" font-size="13.4" text-anchor="middle">0</text>
<text transform="translate(462.6 267.95) rotate(-90)" font-size="13.4" text-anchor="middle">5</text>
<text transform="translate(462.6 173.6) rotate(-90)" font-size="13.4" text-anchor="middle">10</text>
<text transform="translate(462.6 79.25) rotate(-90)" font-size="13.4" text-anchor="middle">15</text>
<text x="590.7" y="37.7" font-size="16.1">(b):</text>
<text x="625" y="37.7" font-size="17.4" class="sym">κ</text>
<path d="M638.7 32.85h7.8M638.7 35.2h7.8" stroke="#000" stroke-width="1.25" fill="none"/>
<text x="651" y="37.7" font-size="16.1">2000</text>
<text x="639.5" y="435.2" font-size="13.4" text-anchor="middle">s</text>
<text transform="translate(427.8 226.6) rotate(-90)" font-size="14.4"><tspan class="sym">κ</tspan><tspan font-size="9.4" dy="2.6" dx="0.6">0</tspan></text>
</g>
</svg>
</body></html>
